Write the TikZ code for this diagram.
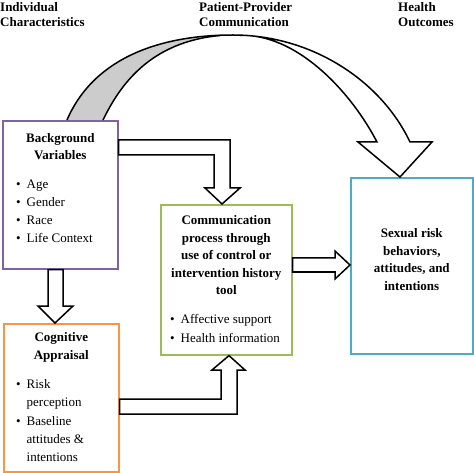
\documentclass[tikz,border=0pt]{standalone}
\usepackage{fontspec}
\setmainfont{Liberation Serif}
\usetikzlibrary{positioning}
\definecolor{bgpurple}{HTML}{8064A2}
\definecolor{commgreen}{HTML}{9BBB59}
\definecolor{outblue}{HTML}{4BACC6}
\definecolor{cogorange}{HTML}{F79646}
\tikzset{
  box/.style={draw=#1, line width=1.6pt, fill=white, anchor=north west, inner sep=0pt},
  head/.style={font=\fontsize{13}{17.5}\selectfont\bfseries, align=center, inner sep=0pt, anchor=north},
  toptitle/.style={font=\fontsize{13}{15.7}\selectfont\bfseries, align=left, inner sep=0pt, anchor=north west},
  items/.style={font=\fontsize{13}{18.2}\selectfont, align=left, inner sep=0pt, anchor=north west},
  blockarrow/.style={draw=black, line width=1.5pt, fill=white}
}
\newcommand{\itm}{\makebox[10.5pt][l]{•}}
\newcommand{\itmgap}{\hspace*{10.5pt}}
\begin{document}
\begin{tikzpicture}[x=1pt, y=-1pt]
\useasboundingbox (0,0) rectangle (474,473);
% column titles
\node[toptitle] (tind) at (0,2) {Individual\\Characteristics};
\node[toptitle] (tppc) at (199,2) {Patient-Provider\\Communication};
\node[toptitle] (thlt) at (398,2) {Health\\Outcomes};
% boxes
\node[box=bgpurple, minimum width=115pt, minimum height=148pt] (bg) at (2,120) {};
\node[box=commgreen, minimum width=131pt, minimum height=150pt] (comm) at (160,204) {};
\node[box=outblue, minimum width=122pt, minimum height=176pt] (out) at (350,177) {};
\node[box=cogorange, minimum width=115pt, minimum height=148pt] (cog) at (3,323) {};
% box texts
\node[head, below=13pt of bg.north] (bghead) {Background\\Variables};
\node[items] (bglist) at (16,179.5) {\itm Age\\\itm Gender\\\itm Race\\\itm Life Context};
\node[head, below=11.5pt of comm.north] (commhead) {Communication\\process through\\use of control or\\intervention history\\tool};
\node[items] (commlist) at (170,314.5) {\itm Affective support\\\itm Health information};
\node[head, below=51.5pt of out.north] (outhead) {Sexual risk\\behaviors,\\attitudes, and\\intentions};
\node[head, below=9.5pt of cog.north] (coghead) {Cognitive\\Appraisal};
\node[items] (coglist) at (16,379.5) {\itm Risk\\\itmgap perception\\\itm Baseline\\\itmgap attitudes \&\\\itmgap intentions};
% big curved arrow
\fill[gray!40] (67,0 |- bg.north) .. controls (95,55) and (165,35) .. (233,35) -- (220,35.5)
  .. controls (150,42) and (120,85) .. (103,0 |- bg.north) -- cycle;
\draw[blockarrow] (233,35) .. controls (310,35) and (380,79) .. (410,142) -- (432,142)
  -- (400,0 |- out.north) -- (358,142) -- (377,142)
  .. controls (351,92) and (300,38) .. (247,35.5) -- cycle;
\draw[line width=1.5pt] (67,0 |- bg.north) .. controls (95,55) and (165,35) .. (233,35);
\draw[line width=1.5pt] (103,0 |- bg.north) .. controls (120,85) and (150,42) .. (220,35.5);
% block arrows
\draw[blockarrow] (bg.east |- 0,140) -- (230,140) -- (230,188) -- (240,188) -- (222,0 |- comm.north)
  -- (205,188) -- (214,188) -- (214,155) -- (bg.east |- 0,155) -- cycle;
\draw[blockarrow] (48,0 |- bg.south) -- (48,306) -- (38,306) -- (55,0 |- cog.north)
  -- (73,306) -- (63,306) -- (63,0 |- bg.south) -- cycle;
\draw[blockarrow] (comm.east |- 0,258) -- (335,258) -- (335,251) -- (out.west |- 0,265)
  -- (335,279) -- (335,272) -- (comm.east |- 0,272) -- cycle;
\draw[blockarrow] (cog.east |- 0,399) -- (221,399) -- (221,370) -- (212,370) -- (229,0 |- comm.south)
  -- (245,370) -- (237,370) -- (237,414) -- (cog.east |- 0,414) -- cycle;
\end{tikzpicture}
\end{document}
